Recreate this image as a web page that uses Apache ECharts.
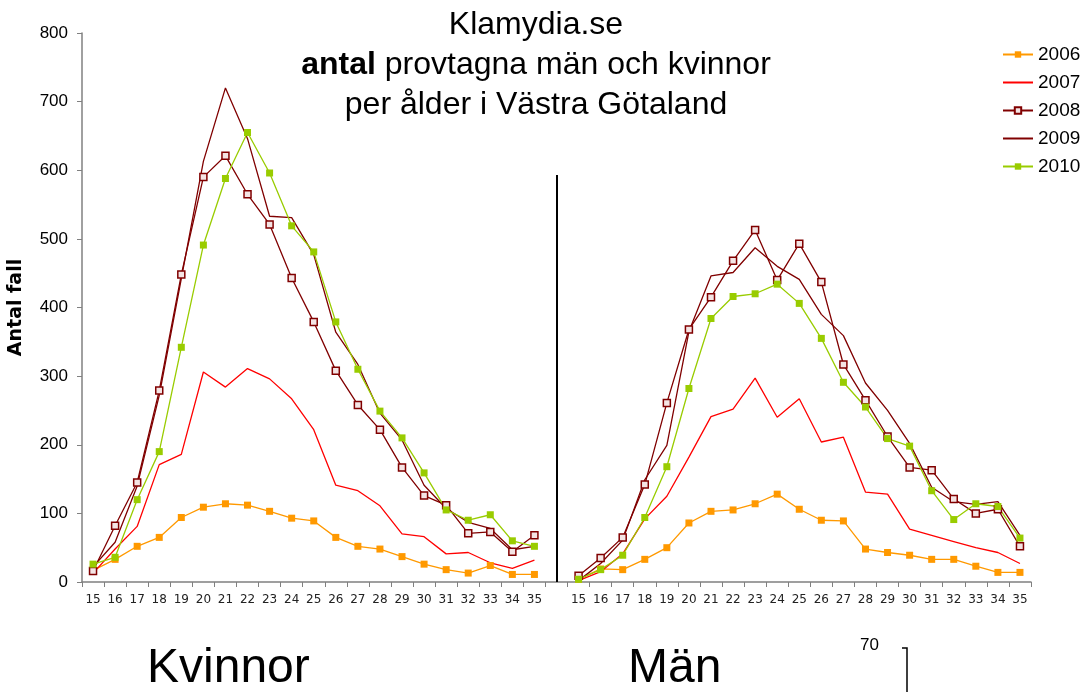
<!DOCTYPE html>
<html>
<head>
<meta charset="utf-8">
<script src="https://cdn.jsdelivr.net/npm/echarts@6/dist/echarts.min.js"></script>
<style>
  html, body { margin: 0; padding: 0; background: #fff; }
  #chart { width: 1085px; height: 692px; }
</style>
</head>
<body>
<div id="chart"></div>
<script>
// ages 15-35, shown twice: Kvinnor then Män, with a blank slot between
const ages = ['15', '16', '17', '18', '19', '20', '21', '22', '23', '24', '25',
  '26', '27', '28', '29', '30', '31', '32', '33', '34', '35'];
const years = ['2006', '2007', '2008', '2009', '2010'];
const yTicks = [0, 100, 200, 300, 400, 500, 600, 700, 800];

// Kvinnor
const kv2006 = [17, 33, 52, 65, 94, 109, 114, 112, 103, 93, 89, 65, 52, 48, 37, 26, 18, 13, 24, 11, 11];
const kv2007 = [13, 48, 81, 171, 186, 306, 284, 311, 296, 267, 222, 141, 133, 111, 70, 66, 41, 43, 28, 20, 32];
const kv2008 = [16, 82, 145, 279, 448, 590, 621, 565, 521, 443, 379, 308, 258, 222, 167, 126, 112, 71, 73, 44, 68];
const kv2009 = [22, 58, 140, 272, 442, 613, 720, 646, 533, 531, 477, 364, 317, 246, 207, 141, 107, 87, 78, 47, 52];
const kv2010 = [26, 36, 120, 190, 342, 491, 588, 655, 596, 519, 481, 379, 310, 249, 210, 159, 105, 90, 98, 60, 52];

// Män
const man2006 = [4, 19, 18, 33, 50, 86, 103, 105, 114, 128, 106, 90, 89, 48, 43, 39, 33, 33, 23, 14, 14];
const man2007 = [2, 15, 41, 92, 125, 182, 241, 252, 297, 240, 267, 204, 211, 131, 128, 77, 68, 59, 50, 43, 27];
const man2008 = [9, 35, 65, 142, 261, 368, 415, 468, 513, 440, 493, 437, 317, 265, 212, 167, 163, 121, 100, 106, 52];
const man2009 = [2, 27, 61, 149, 199, 365, 446, 451, 487, 460, 441, 390, 359, 290, 250, 202, 138, 117, 113, 117, 68];
const man2010 = [4, 18, 39, 94, 168, 282, 384, 416, 420, 434, 406, 355, 291, 255, 209, 198, 133, 91, 114, 110, 64];

const categories = ages.concat([''], ages);
const gapIndex = ages.length;
const join = (a, b) => a.concat([null], b);

const colors = ['#FF9900', '#FF0000', '#800000', '#800000', '#99CC00'];
const font = 'Liberation Sans, Arial, sans-serif';

const chart = echarts.init(document.getElementById('chart'));

function lineSeries (name, data, color, symbol, emptyMark) {
  return {
    name: name,
    type: 'line',
    data: data,
    symbol: symbol || 'none',
    symbolSize: 7,
    showSymbol: !!symbol,
    connectNulls: false,
    animation: false,
    lineStyle: { color: color, width: 1.3 },
    itemStyle: emptyMark
      ? { color: '#f4e4e4', borderColor: color, borderWidth: 1.5 }
      : { color: color, borderColor: color, borderWidth: 0 },
    emphasis: { disabled: true }
  };
}

const series = [
  lineSeries(years[0], join(kv2006, man2006), colors[0], 'rect'),
  lineSeries(years[1], join(kv2007, man2007), colors[1]),
  lineSeries(years[2], join(kv2008, man2008), colors[2], 'rect', true),
  lineSeries(years[3], join(kv2009, man2009), colors[3]),
  lineSeries(years[4], join(kv2010, man2010), colors[4], 'rect')
];

// black divider between the two groups
series[0].markLine = {
  silent: true,
  symbol: 'none',
  label: { show: false },
  lineStyle: { color: '#000', width: 2, type: 'solid' },
  data: [[{ coord: [gapIndex, 0] }, { coord: [gapIndex, 593] }]]
};

// legend: lines without marker for 2007 and 2009
const legendData = years.map((y, i) => (i === 1 || i === 3)
  ? { name: y, itemStyle: { opacity: 0 } }
  : { name: y });

const option = {
  backgroundColor: '#fff',
  animation: false,
  title: {
    left: 531,
    top: 0,
    textAlign: 'center',
    text: '{n|Klamydia.se}\n{b|antal}{n| provtagna män och kvinnor}\n{n|per ålder i Västra Götaland}',
    textStyle: {
      fontWeight: 'normal',
      rich: {
        n: { fontFamily: font, fontSize: 32, fontWeight: 'normal', color: '#000', lineHeight: 40 },
        b: { fontFamily: font, fontSize: 32, fontWeight: 'bold', color: '#000', lineHeight: 40 }
      }
    }
  },
  legend: {
    orient: 'vertical',
    left: 997,
    top: 40,
    itemWidth: 30,
    itemHeight: 8,
    itemGap: 9,
    data: legendData,
    textStyle: { fontFamily: font, fontSize: 19, color: '#000' }
  },
  grid: { left: 82, right: 54, top: 33, bottom: 110, outerBoundsMode: 'none' },
  xAxis: {
    type: 'category',
    data: categories,
    boundaryGap: true,
    axisLine: { lineStyle: { color: '#808080', width: 1.5 } },
    axisTick: { show: true, interval: 0, length: 5, lineStyle: { color: '#808080' } },
    axisLabel: { interval: 0, margin: 12, fontFamily: 'DejaVu Sans, sans-serif', fontSize: 12, color: '#222' },
    splitLine: { show: false }
  },
  yAxis: {
    type: 'value',
    min: yTicks[0],
    max: yTicks[yTicks.length - 1],
    interval: 100,
    name: 'Antal fall',
    nameLocation: 'middle',
    nameRotate: 90,
    nameGap: 56,
    nameTextStyle: { fontFamily: 'DejaVu Sans, sans-serif', fontSize: 19, fontWeight: 'bold', color: '#000' },
    axisLine: { show: true, lineStyle: { color: '#808080', width: 1.5 } },
    axisTick: { show: true, length: 5, lineStyle: { color: '#808080' } },
    axisLabel: { margin: 14, fontFamily: font, fontSize: 17, color: '#000' },
    splitLine: { show: false }
  },
  graphic: [
    { type: 'text', left: 147, top: 645, style: { text: 'Kvinnor', font: '48px Liberation Sans, Arial, sans-serif', fill: '#000' } },
    { type: 'text', left: 628, top: 645, style: { text: 'Män', font: '48px Liberation Sans, Arial, sans-serif', fill: '#000' } },
    { type: 'text', left: 860, top: 637, style: { text: '70', font: '17px Liberation Sans, Arial, sans-serif', fill: '#000' } },
    { type: 'polyline', shape: { points: [[902, 648], [907, 648], [907, 692]] }, style: { stroke: '#000', lineWidth: 1.5, fill: null } }
  ],
  series: series
};

chart.setOption(option);
</script>
</body>
</html>
